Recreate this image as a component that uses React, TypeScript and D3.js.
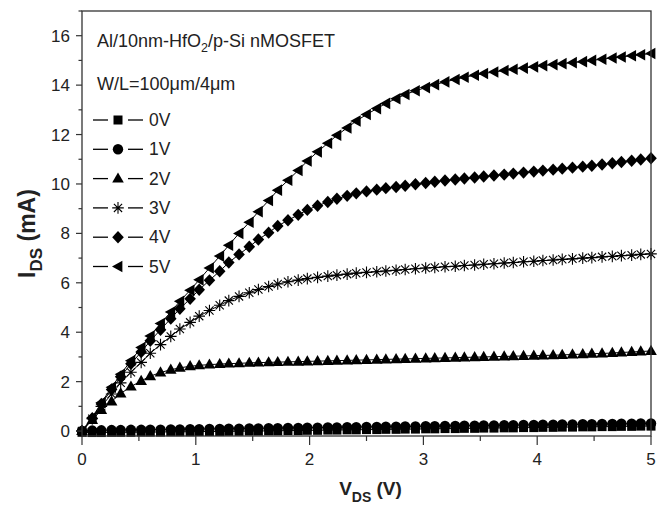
import React from "react";
import * as d3 from "d3";

// Drain-source voltage sweep (V)
const VDS = [
  0, 0.09, 0.17, 0.26, 0.34, 0.43, 0.52, 0.6, 0.69, 0.78, 0.86, 0.95, 1.03, 1.12, 1.21, 1.29, 1.38, 1.47, 1.55, 1.64,
  1.72, 1.81, 1.9, 1.98, 2.07, 2.16, 2.24, 2.33, 2.41, 2.5, 2.59, 2.67, 2.76, 2.84, 2.93, 3.02, 3.1, 3.19, 3.28, 3.36,
  3.45, 3.53, 3.62, 3.71, 3.79, 3.88, 3.97, 4.05, 4.14, 4.22, 4.31, 4.4, 4.48, 4.57, 4.66, 4.74, 4.83, 4.91, 5.0,
];

// I_DS (mA) for each gate voltage
const I_0V = [
  -0.05, -0.06, -0.06, -0.05, -0.05, -0.05, -0.04, -0.04, -0.04, -0.03, -0.03, -0.03, -0.02, -0.02, -0.02, -0.01, -0.01, 0, 0, 0.01,
  0.01, 0.02, 0.02, 0.03, 0.03, 0.04, 0.04, 0.05, 0.05, 0.06, 0.06, 0.07, 0.07, 0.08, 0.08, 0.09, 0.09, 0.1, 0.1, 0.11,
  0.11, 0.12, 0.12, 0.13, 0.13, 0.14, 0.14, 0.15, 0.15, 0.16, 0.16, 0.17, 0.17, 0.18, 0.18, 0.19, 0.19, 0.2, 0.2,
];
const I_1V = [
  0.0, 0.02, 0.03, 0.04, 0.04, 0.05, 0.05, 0.06, 0.06, 0.07, 0.07, 0.08, 0.08, 0.09, 0.09, 0.1, 0.1, 0.11, 0.11, 0.12,
  0.12, 0.13, 0.13, 0.14, 0.14, 0.15, 0.15, 0.16, 0.16, 0.17, 0.17, 0.18, 0.18, 0.19, 0.19, 0.2, 0.2, 0.21, 0.21, 0.22,
  0.22, 0.23, 0.23, 0.24, 0.24, 0.25, 0.25, 0.26, 0.26, 0.27, 0.27, 0.28, 0.28, 0.29, 0.29, 0.3, 0.3, 0.31, 0.31,
];
const I_2V = [
  0, 0.45, 0.85, 1.2, 1.52, 1.8, 2.03, 2.22, 2.37, 2.48, 2.56, 2.62, 2.66, 2.69, 2.71, 2.73, 2.74, 2.76, 2.77, 2.78,
  2.79, 2.8, 2.81, 2.82, 2.83, 2.84, 2.85, 2.86, 2.87, 2.88, 2.89, 2.9, 2.91, 2.92, 2.93, 2.94, 2.95, 2.96, 2.97, 2.98,
  2.99, 3.0, 3.01, 3.02, 3.03, 3.04, 3.05, 3.06, 3.07, 3.08, 3.1, 3.11, 3.13, 3.14, 3.16, 3.18, 3.2, 3.22, 3.24,
];
const I_3V = [
  0, 0.5, 1.0, 1.5, 1.95, 2.38, 2.78, 3.15, 3.5, 3.83, 4.13, 4.4, 4.65, 4.88, 5.09, 5.28, 5.45, 5.6, 5.73, 5.85,
  5.95, 6.04, 6.11, 6.17, 6.22, 6.27, 6.31, 6.35, 6.39, 6.42, 6.45, 6.48, 6.51, 6.54, 6.57, 6.6, 6.62, 6.65, 6.67, 6.7,
  6.72, 6.75, 6.77, 6.8, 6.82, 6.85, 6.87, 6.9, 6.92, 6.95, 6.97, 7.0, 7.02, 7.05, 7.07, 7.1, 7.12, 7.15, 7.17,
];
const I_4V = [
  0, 0.52, 1.1, 1.68, 2.2, 2.72, 3.2, 3.65, 4.1, 4.55, 4.95, 5.35, 5.72, 6.1, 6.47, 6.82, 7.15, 7.46, 7.75, 8.03,
  8.3, 8.53, 8.75, 8.95, 9.12, 9.27, 9.4, 9.52, 9.62, 9.7, 9.77, 9.83, 9.88, 9.93, 9.99, 10.04, 10.09, 10.14, 10.18, 10.22,
  10.26, 10.3, 10.34, 10.38, 10.42, 10.46, 10.5, 10.54, 10.58, 10.62, 10.66, 10.7, 10.74, 10.79, 10.84, 10.89, 10.94, 10.99, 11.04,
];
const I_5V = [
  0, 0.55, 1.15, 1.77, 2.3, 2.85, 3.38, 3.85, 4.35, 4.82, 5.25, 5.7, 6.12, 6.6, 7.08, 7.52, 8.0, 8.45, 8.88, 9.33,
  9.75, 10.15, 10.55, 10.93, 11.3, 11.65, 11.97, 12.27, 12.55, 12.81, 13.05, 13.26, 13.45, 13.62, 13.77, 13.9, 14.02, 14.13, 14.23, 14.32,
  14.4, 14.47, 14.53, 14.59, 14.64, 14.69, 14.74, 14.79, 14.83, 14.87, 14.91, 14.95, 15.0, 15.05, 15.1, 15.14, 15.19, 15.23, 15.28,
];

const SERIES_LABELS = ["0V", "1V", "2V", "3V", "4V", "5V"];
const SERIES_VALUES = [I_0V, I_1V, I_2V, I_3V, I_4V, I_5V];
const SERIES_MARKERS = ["square", "circle", "triangleUp", "asterisk", "diamond", "triangleLeft"];

const X_TICKS = [0, 1, 2, 3, 4, 5];
const X_MINOR = [0.5, 1.5, 2.5, 3.5, 4.5];
const Y_TICKS = [0, 2, 4, 6, 8, 10, 12, 14, 16];
const Y_MINOR = [1, 3, 5, 7, 9, 11, 13, 15, 17];

const W = 669;
const H = 505;
const FONT = "'Liberation Sans', Arial, Helvetica, sans-serif";
const INK = "#000";
const AXIS = "#333";

const x = d3.scaleLinear().domain([0, 5]).range([82, 651]);
const y = d3.scaleLinear().domain([-0.2, 17]).range([436, 11]);

function Marker({ kind, cx, cy }: { kind: string; cx: number; cy: number }) {
  const t = `translate(${cx},${cy})`;
  switch (kind) {
    case "square":
      return <rect x={cx - 4.5} y={cy - 4.5} width={9} height={9} fill={INK} />;
    case "circle":
      return <circle cx={cx} cy={cy} r={5.2} fill={INK} />;
    case "triangleUp":
      return <path transform={t} d="M0,-6.2L5.8,4L-5.8,4Z" fill={INK} />;
    case "diamond":
      return <path transform={t} d="M0,-6.2L5.8,0L0,6.2L-5.8,0Z" fill={INK} />;
    case "triangleLeft":
      return <path transform={t} d="M-6,0L4.4,-5.8L4.4,5.8Z" fill={INK} />;
    case "asterisk":
      return (
        <path
          transform={t}
          d="M0,-5.8L0,5.8M-5.8,0L5.8,0M-4.1,-4.1L4.1,4.1M-4.1,4.1L4.1,-4.1"
          stroke={INK}
          strokeWidth={1.1}
          fill="none"
        />
      );
    default:
      return null;
  }
}

export default function App() {
  const line = d3
    .line<number>()
    .x((_, i) => x(VDS[i]))
    .y((d) => y(d));

  const [x0, x1] = x.range();
  const [yb, yt] = y.range();

  const legendY0 = 120;
  const legendStep = 29.3;

  return (
    <svg
      width={W}
      height={H}
      style={{ position: "absolute", left: 0, top: 0, background: "#fff" }}
      fontFamily={FONT}
    >
      <rect width={W} height={H} fill="#fff" />

      {/* series */}
      {SERIES_VALUES.map((vals, si) => (
        <g key={si}>
          <path d={line(vals) || ""} fill="none" stroke={INK} strokeWidth={1} />
          {vals.map((v, i) => (
            <Marker key={i} kind={SERIES_MARKERS[si]} cx={x(VDS[i])} cy={y(v)} />
          ))}
        </g>
      ))}

      {/* frame */}
      <rect x={x0} y={yt} width={x1 - x0} height={yb - yt} fill="none" stroke={AXIS} strokeWidth={1.3} />

      {/* x ticks */}
      {X_TICKS.map((t) => (
        <g key={"xt" + t}>
          <line x1={x(t)} x2={x(t)} y1={yb} y2={yb + 9} stroke={AXIS} strokeWidth={1.2} />
          <text x={x(t)} y={465} textAnchor="middle" fontSize={17} fill="#222">
            {t}
          </text>
        </g>
      ))}
      {X_MINOR.map((t) => (
        <line key={"xm" + t} x1={x(t)} x2={x(t)} y1={yb} y2={yb + 5} stroke={AXIS} strokeWidth={1.2} />
      ))}

      {/* y ticks */}
      {Y_TICKS.map((t) => (
        <g key={"yt" + t}>
          <line x1={x0 - 6} x2={x0} y1={y(t)} y2={y(t)} stroke={AXIS} strokeWidth={1.2} />
          <text x={70} y={y(t) + 6} textAnchor="end" fontSize={17} fill="#222">
            {t}
          </text>
        </g>
      ))}
      {Y_MINOR.map((t) => (
        <line key={"ym" + t} x1={x0 - 3.5} x2={x0} y1={y(t)} y2={y(t)} stroke={AXIS} strokeWidth={1.2} />
      ))}

      {/* axis titles */}
      <text x={(x0 + x1) / 2 + 4} y={495} textAnchor="middle" fontSize={19} fontWeight="bold" fill="#222">
        V<tspan fontSize={14} dy={7}>DS</tspan>
        <tspan dy={-7}> (V)</tspan>
      </text>
      <text
        transform={`translate(35,${(yt + yb) / 2 + 10}) rotate(-90)`}
        textAnchor="middle"
        fontSize={23}
        fontWeight="bold"
        fill="#222"
      >
        I<tspan fontSize={17} dy={7}>DS</tspan>
        <tspan dy={-7}> (mA)</tspan>
      </text>

      {/* annotations */}
      <text x={97} y={47} fontSize={18} fill="#222">
        Al/10nm-HfO<tspan fontSize={12.5} dy={5}>2</tspan>
        <tspan dy={-5}>/p-Si nMOSFET</tspan>
      </text>
      <text x={97} y={90} fontSize={18} fill="#222">
        W/L=100μm/4μm
      </text>

      {/* legend */}
      {SERIES_LABELS.map((lab, i) => {
        const ly = legendY0 + i * legendStep;
        return (
          <g key={"lg" + i}>
            <line x1={93} x2={108} y1={ly} y2={ly} stroke={INK} strokeWidth={1.3} />
            <Marker kind={SERIES_MARKERS[i]} cx={118} cy={ly} />
            <line x1={128} x2={143} y1={ly} y2={ly} stroke={INK} strokeWidth={1.3} />
            <text x={149} y={ly + 6} fontSize={17.5} fill="#222">
              {lab}
            </text>
          </g>
        );
      })}
    </svg>
  );
}
